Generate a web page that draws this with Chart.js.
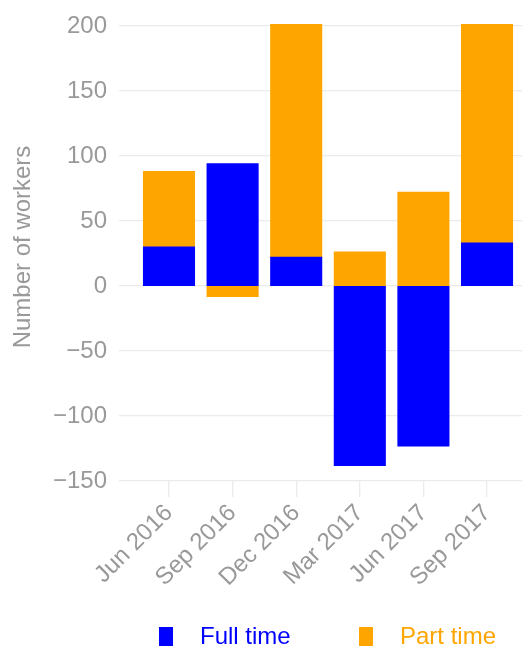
<!DOCTYPE html>
<html>
<head>
<meta charset="utf-8">
<script src="https://cdn.jsdelivr.net/npm/chart.js@4.4.1/dist/chart.umd.min.js"></script>
<style>
  html, body { margin: 0; padding: 0; background: #fff; }
  #wrap { position: relative; width: 522px; height: 646px; overflow: hidden; }
  #legend { position: absolute; left: 0; top: 0; width: 522px; height: 646px; pointer-events: none;
    font-family: "Liberation Sans", Arial, sans-serif; font-size: 24px; line-height: 24px; }
  .key { position: absolute; width: 14px; height: 20px; top: 627px; }
  .lab { position: absolute; top: 624px; white-space: nowrap; }
</style>
</head>
<body>
<div id="wrap">
  <canvas id="chart" width="522" height="646"></canvas>
  <div id="legend"></div>
</div>
<script>
const months = ["Jun 2016", "Sep 2016", "Dec 2016", "Mar 2017", "Jun 2017", "Sep 2017"];
const fullTime = [30, 94, 22, -138, -123, 33];
const partTime = [58, -8, 179, 26, 72, 168];
const seriesNames = ["Full time", "Part time"];
const seriesColors = ["#0000ff", "#ffa500"];

const gridColor = "#ebebeb";
const textColor = "#999999";
const fontFamily = "'Liberation Sans', Arial, sans-serif";

// positions on a numeric x axis so the categories sit where the reference has them
const points = (vals) => vals.map((v, i) => ({ x: i + 1, y: v }));

const ctx = document.getElementById("chart").getContext("2d");
new Chart(ctx, {
  type: "bar",
  data: {
    datasets: [
      {
        label: seriesNames[0],
        data: points(fullTime),
        backgroundColor: seriesColors[0],
        borderWidth: 0,
        inflateAmount: 0.6,
        barPercentage: 0.8,
        categoryPercentage: 1,
      },
      {
        label: seriesNames[1],
        data: points(partTime),
        backgroundColor: seriesColors[1],
        borderWidth: 0,
        inflateAmount: 0.6,
        barPercentage: 0.8,
        categoryPercentage: 1,
      },
    ],
  },
  options: {
    responsive: false,
    animation: false,
    layout: { padding: { top: 13, left: 0, right: 0, bottom: 0 } },
    plugins: {
      legend: { display: false },
      tooltip: { enabled: false },
    },
    scales: {
      x: {
        type: "linear",
        stacked: true,
        offset: false,
        min: 0.214,
        max: 6.55,
        border: { display: false },
        grid: {
          offset: false,
          drawOnChartArea: false,
          color: gridColor,
          lineWidth: 1.3,
          tickLength: 16,
        },
        ticks: {
          stepSize: 1,
          includeBounds: false,
          autoSkip: false,
          minRotation: 45,
          maxRotation: 45,
          color: textColor,
          font: { family: fontFamily, size: 24 },
          padding: 2,
          callback: (v) => months[v - 1] || "",
        },
        afterBuildTicks: (scale) => {
          scale.ticks = scale.ticks.filter((t) => Number.isInteger(t.value) && months[t.value - 1]);
        },
        afterFit: (scale) => { scale.height = 646 - 481; },
      },
      y: {
        stacked: true,
        min: -150,
        max: 210,
        border: { display: false },
        grid: {
          color: gridColor,
          lineWidth: 1.3,
          drawTicks: false,
        },
        ticks: {
          stepSize: 50,
          includeBounds: false,
          color: textColor,
          font: { family: fontFamily, size: 24 },
          padding: 12,
          callback: (v) => (v < 0 ? "\u2212" + Math.abs(v) : String(v)),
        },
        title: {
          display: true,
          text: "Number of workers",
          color: textColor,
          font: { family: fontFamily, size: 24, weight: "normal" },
          padding: { top: 9, bottom: 4 },
        },
        afterFit: (scale) => {
          scale.width = 119;
          scale.paddingTop = 0;
          scale.paddingBottom = 0;
        },
      },
    },
  },
});

// legend under the plot
const legend = document.getElementById("legend");
const keyX = [159, 359];
const labX = [200, 400];
seriesNames.forEach((name, i) => {
  const key = document.createElement("div");
  key.className = "key";
  key.style.left = keyX[i] + "px";
  key.style.background = seriesColors[i];
  legend.appendChild(key);
  const lab = document.createElement("div");
  lab.className = "lab";
  lab.style.left = labX[i] + "px";
  lab.style.color = seriesColors[i];
  lab.textContent = name;
  legend.appendChild(lab);
});
</script>
</body>
</html>
